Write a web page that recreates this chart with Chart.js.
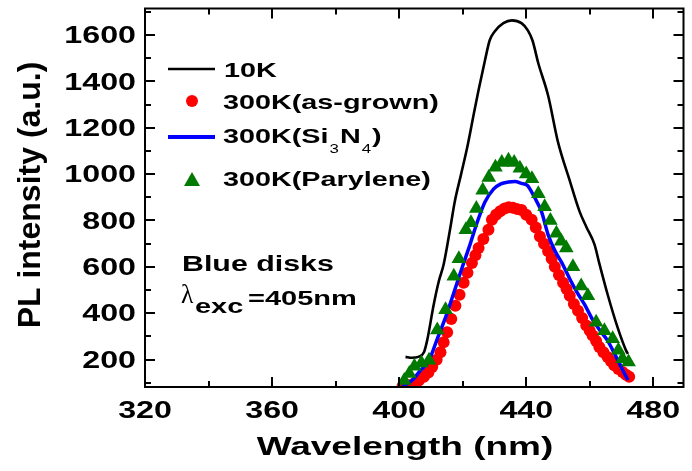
<!DOCTYPE html>
<html>
<head>
<meta charset="utf-8">
<script src="https://cdn.jsdelivr.net/npm/chart.js@4.4.1/dist/chart.umd.min.js"></script>
<style>
  html, body { margin: 0; padding: 0; background: #fff; }
  #wrap { width: 692px; height: 471px; }
</style>
</head>
<body>
<div id="wrap"><canvas id="pl" width="692" height="471"></canvas></div>
<script>
// ---- data (wavelength in nm, PL intensity in a.u.) ----
const wl10K = [402, 404, 406, 407.8, 408.8, 410.9, 412.5, 414, 416, 417.5, 419.5, 421.5, 423.5, 425, 427, 428.5, 430, 432.8, 435.5, 438.5, 440.5, 442, 443.75, 446.9, 450, 453.5, 456.8, 459, 461.5, 463, 465.6, 468.75, 471.4, 472];
const pl10K = [212, 208, 212, 232, 282, 439, 539, 610, 760, 881, 1000, 1120, 1260, 1363, 1490, 1577, 1614, 1651, 1663, 1651, 1620, 1575, 1480, 1338, 1138, 980, 838, 770, 696, 615, 482, 339, 240, 225];

const wlAsGrown = [401, 402.8, 404.7, 406.2, 407.8, 409.2, 410.4, 411.8, 413, 414, 415.1, 416.4, 417.7, 419, 420.3, 421.5, 422.9, 424, 425, 426.5, 428.1, 429.2, 430.5, 431.8, 433.2, 434.5, 435.8, 437, 438.5, 440, 441.7, 443, 444.3, 445.6, 446.9, 448, 449, 450.3, 451.6, 452.7, 453.7, 455, 456.3, 457.6, 458.9, 460, 460.9, 462, 463, 464.3, 465.6, 466.7, 467.7, 469, 470.3, 471.4, 472.4];
const plAsGrown = [83, 90, 97, 110, 126, 145, 168, 200, 232, 275, 318, 375, 432, 480, 532, 575, 617, 650, 681, 720, 760, 803, 825, 840, 852, 857, 855, 850, 845, 825, 803, 770, 731, 700, 667, 635, 600, 565, 532, 505, 475, 440, 411, 380, 347, 325, 304, 280, 254, 232, 211, 193, 176, 160, 147, 135, 126];

const wlSiN = [401, 404.2, 406.5, 409.4, 412, 414.6, 417, 419.8, 422.4, 424.5, 427, 429.7, 432, 434.4, 436.5, 438.5, 440.3, 442.6, 444.8, 446.9, 449, 451.3, 454, 456, 458.3, 461, 463.5, 465.6, 468, 470, 472];
const plSiN = [83, 112, 150, 197, 290, 382, 480, 596, 700, 790, 880, 935, 958, 966, 968, 960, 952, 900, 838, 738, 670, 615, 540, 490, 439, 370, 320, 282, 220, 165, 112];

const wlParylene = [401.6, 403.2, 404.8, 407, 409.4, 412, 414.6, 417.2, 418.8, 421, 422.6, 424.3, 426.3, 428.2, 430.3, 432.3, 434.4, 436.2, 438, 440, 441.8, 443.8, 445.8, 447.6, 449.5, 451, 452.6, 454.7, 457.3, 459.4, 462, 464.6, 467.2, 469, 470.3, 472.2];
const plParylene = [110, 140, 172, 185, 197, 328, 415, 560, 635, 760, 790, 852, 930, 985, 1030, 1050, 1060, 1050, 1025, 1000, 980, 915, 859, 800, 745, 710, 681, 600, 518, 475, 361, 325, 290, 240, 204, 190];

const xTicks = [320, 360, 400, 440, 480];
const xMinor = [340, 380, 420, 460];
const yTicks = [200, 400, 600, 800, 1000, 1200, 1400, 1600];
const yMinor = [100, 300, 500, 700, 900, 1100, 1300, 1500, 1700];

const FONT = '"Liberation Sans", Arial, sans-serif';
const pts = (xs, ys) => xs.map((x, i) => ({ x, y: ys[i] }));

// text helper: y is the centre of the capitals, sx stretches horizontally
function txt(ctx, s, x, y, size, opt = {}) {
  const sx = opt.sx || 1.38;
  ctx.save();
  ctx.font = (opt.weight || 'bold') + ' ' + size + 'px ' + (opt.family || FONT);
  ctx.textBaseline = 'alphabetic';
  ctx.textAlign = 'left';
  ctx.fillStyle = '#000';
  const w = ctx.measureText(s).width * sx;
  const x0 = opt.align === 'right' ? x - w : opt.align === 'center' ? x - w / 2 : x;
  ctx.translate(x0, y + 0.358 * size);
  ctx.scale(sx, 1);
  ctx.fillText(s, 0, 0);
  ctx.restore();
  return x0 + w;
}

const framePlugin = {
  id: 'frame',
  afterDraw(chart) {
    const { ctx, chartArea: a, scales: { x, y } } = chart;
    ctx.save();
    ctx.strokeStyle = '#000';
    ctx.lineWidth = 2;
    ctx.strokeRect(a.left, a.top, a.right - a.left, a.bottom - a.top);

    // inward ticks on all four sides
    const tick = (vals, len, horiz) => {
      vals.forEach(v => {
        ctx.beginPath();
        if (horiz) {
          const px = Math.round(x.getPixelForValue(v));
          ctx.moveTo(px, a.bottom); ctx.lineTo(px, a.bottom - len);
          ctx.moveTo(px, a.top); ctx.lineTo(px, a.top + len);
        } else {
          const py = Math.round(y.getPixelForValue(v));
          ctx.moveTo(a.left, py); ctx.lineTo(a.left + len, py);
          ctx.moveTo(a.right, py); ctx.lineTo(a.right - len, py);
        }
        ctx.stroke();
      });
    };
    tick(xTicks, 10, true);
    tick(xMinor, 6, true);
    tick(yTicks, 10, false);
    tick(yMinor, 6, false);
    ctx.restore();

    // tick labels
    xTicks.forEach(v => txt(ctx, String(v), x.getPixelForValue(v), 410, 23, { align: 'center', sx: 1.4 }));
    yTicks.forEach(v => txt(ctx, String(v), 136, y.getPixelForValue(v), 23, { align: 'right', sx: 1.4 }));

    // axis titles
    txt(ctx, 'Wavelength (nm)', 405, 446, 25, { align: 'center', sx: 1.48 });
    ctx.save();
    ctx.translate(29, 195);
    ctx.rotate(-Math.PI / 2);
    ctx.font = 'bold 32px ' + FONT;
    ctx.textAlign = 'center';
    ctx.fillStyle = '#000';
    ctx.fillText('PL intensity (a.u.)', 0, 0.358 * 32);
    ctx.restore();

    // legend
    ctx.save();
    ctx.lineCap = 'butt';
    ctx.strokeStyle = '#000'; ctx.lineWidth = 2.5;
    ctx.beginPath(); ctx.moveTo(168, 69); ctx.lineTo(215, 69); ctx.stroke();
    ctx.strokeStyle = '#0000ff'; ctx.lineWidth = 4;
    ctx.beginPath(); ctx.moveTo(168, 137); ctx.lineTo(215, 137); ctx.stroke();
    ctx.fillStyle = '#ff0000';
    ctx.beginPath(); ctx.arc(192, 101, 6, 0, Math.PI * 2); ctx.fill();
    ctx.fillStyle = '#007a00';
    ctx.beginPath(); ctx.moveTo(192, 172); ctx.lineTo(200, 186); ctx.lineTo(184, 186); ctx.closePath(); ctx.fill();
    ctx.restore();

    txt(ctx, '10K', 224, 69, 21, { sx: 1.37 });
    txt(ctx, '300K(as-grown)', 223, 101, 21, { sx: 1.37 });
    let e = txt(ctx, '300K(Si', 223, 135.5, 21, { sx: 1.37 });
    e = txt(ctx, '3', e + 1, 148, 13, { sx: 1.3, weight: 'normal' });
    e = txt(ctx, 'N', e + 1, 135.5, 21, { sx: 1.37 });
    e = txt(ctx, '4', e + 1, 148, 13, { sx: 1.3, weight: 'normal' });
    txt(ctx, ')', e + 1, 135.5, 21, { sx: 1.37 });
    txt(ctx, '300K(Parylene)', 223, 178, 21, { sx: 1.37 });

    // annotation
    txt(ctx, 'Blue disks', 182, 263, 22, { sx: 1.38 });
    txt(ctx, 'λ', 181, 293, 27, { sx: 0.95, weight: 'normal', family: '"Liberation Serif", serif' });
    txt(ctx, 'exc', 195, 305, 21, { sx: 1.38 });
    txt(ctx, '=405nm', 248, 297, 21, { sx: 1.38 });
  }
};

new Chart(document.getElementById('pl'), {
  type: 'scatter',
  data: {
    datasets: [
      { label: '10K', data: pts(wl10K, pl10K), showLine: true, borderColor: '#000', borderWidth: 2.6,
        pointRadius: 0, cubicInterpolationMode: 'monotone', order: 4 },
      { label: '300K(as-grown)', data: pts(wlAsGrown, plAsGrown), pointStyle: 'circle', pointRadius: 6,
        backgroundColor: '#ff0000', borderColor: '#ff0000', borderWidth: 0, order: 3 },
      { label: '300K(Si3N4)', data: pts(wlSiN, plSiN), showLine: true, borderColor: '#0000ff', borderWidth: 3.5,
        pointRadius: 0, cubicInterpolationMode: 'monotone', order: 2 },
      { label: '300K(Parylene)', data: pts(wlParylene, plParylene), pointStyle: 'triangle', pointRadius: 8.5,
        backgroundColor: '#007a00', borderColor: '#007a00', borderWidth: 0, order: 1 }
    ]
  },
  options: {
    responsive: false,
    animation: false,
    layout: { padding: { left: 145, top: 5, right: 5, bottom: 84 } },
    scales: {
      x: { type: 'linear', min: 320, max: 489.5, display: false },
      y: { type: 'linear', min: 82, max: 1714, display: false }
    },
    plugins: { legend: { display: false }, tooltip: { enabled: false } }
  },
  plugins: [framePlugin]
});
</script>
</body>
</html>
